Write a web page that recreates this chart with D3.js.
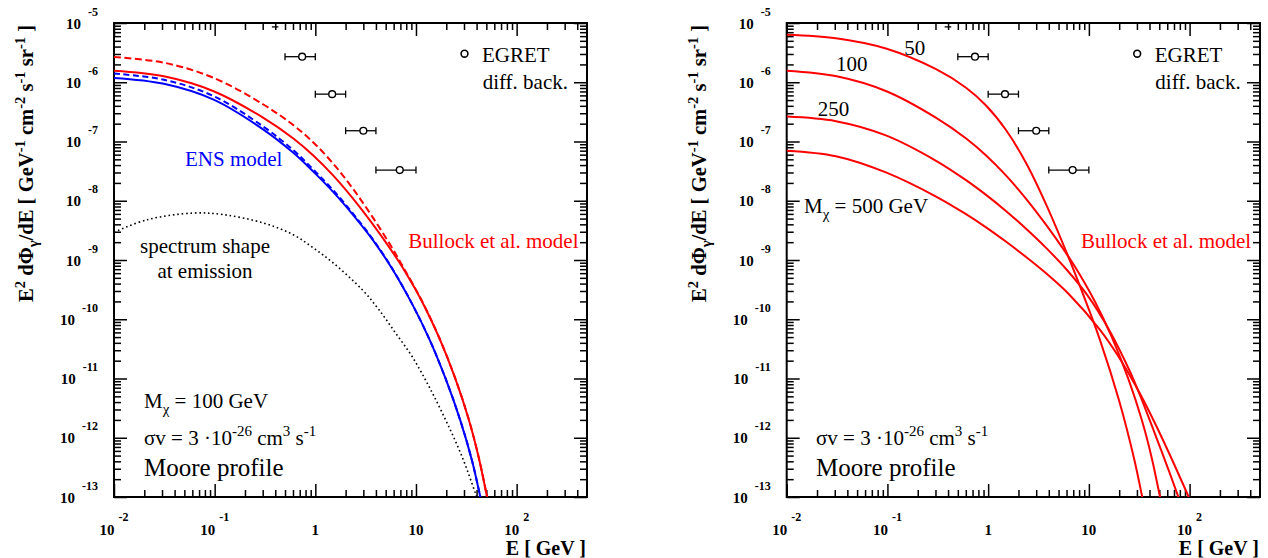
<!DOCTYPE html>
<html><head><meta charset="utf-8">
<script src="https://cdn.jsdelivr.net/npm/d3@7"></script>
<style>
body{margin:0;background:#fff;}
svg text{font-family:"Liberation Serif","Times New Roman",Times,serif;}
</style></head>
<body><svg id="chart" width="1268" height="558" font-family="Liberation Serif, Times New Roman, serif"></svg>
<script>
// ---------------- data ----------------
const xDomain = [0.01, 500];
const yDomain = [1e-13, 1e-5];
const xMajor = [0.01, 0.1, 1, 10, 100];
const xMajorLabels = [["10","-2"],["10","-1"],["1",""],["10",""],["10","2"]];
const yMajor = [1e-13,1e-12,1e-11,1e-10,1e-9,1e-8,1e-7,1e-6,1e-5];
const yMajorExp = ["-13","-12","-11","-10","-9","-8","-7","-6","-5"];

// EGRET diffuse background points (GeV, flux) with energy bins
const egretE   = [0.74, 1.47, 3.0, 6.9];
const egretF   = [2.7e-6, 6.3e-7, 1.52e-7, 3.3e-8];
const egretLo  = [0.5, 1, 2, 4];
const egretHi  = [1, 2, 4, 10];
const egretClippedE = [0.37, 0.43];
const egretClippedF = 8.6e-6;

// left panel: ENS model (blue) solid / dashed
const ensE       = [0.01,0.0313,0.0977,0.305,0.605,0.955,1.51,2.38,3.75,5.92,9.18,13.5,19.7,27.7,36.1,43.7,45.7];
const ensSolidF  = [1.18e-6,9.40e-7,5.08e-7,1.59e-7,6.44e-8,3.10e-8,1.40e-8,5.74e-9,2.15e-9,6.73e-10,1.80e-10,4.72e-11,9.93e-12,1.91e-12,4.07e-13,9.77e-14,6.76e-14];
const ensDashedF = [1.40e-6,1.104e-6,5.83e-7,1.78e-7,7.14e-8,3.37e-8,1.50e-8,6.01e-9,2.21e-9,6.82e-10,1.80e-10,4.72e-11,9.93e-12,1.91e-12,4.07e-13,9.77e-14,6.76e-14];

// Bullock et al. model, M = 100 GeV (red) solid / dashed
const bullE       = [0.01,0.0313,0.0977,0.305,0.605,0.955,1.51,2.38,3.75,5.92,7.31,11.5,16.9,24.7,33.5,42.1,50.8,52.5];
const bullSolidF  = [1.567e-6,1.262e-6,7.06e-7,2.51e-7,1.125e-7,5.81e-8,2.65e-8,1.074e-8,3.94e-9,1.318e-9,7.60e-10,1.98e-10,5.0e-11,9.77e-12,2.01e-12,4.57e-13,1.01e-13,7.76e-14];
const bullDashedF = [2.66e-6,2.14e-6,1.186e-6,4.21e-7,1.888e-7,9.64e-8,4.2e-8,1.57e-8,5.13e-9,1.51e-9,8.05e-10,2.02e-10,5.02e-11,9.8e-12,2.02e-12,4.59e-13,1.02e-13,7.8e-14];

// spectrum shape at emission (black dotted)
const emisE = [0.01,0.0214,0.0619,0.123,0.305,0.605,0.955,1.51,2.94,4.31,6.30,9.18,13.5,19.7,28.7,39.0,42];
const emisF = [2.94e-9,4.79e-9,6.21e-9,5.82e-9,4.21e-9,2.67e-9,1.6e-9,8.89e-10,3.12e-10,1.43e-10,5.79e-11,2.33e-11,7.26e-12,2.0e-12,4.79e-13,1.15e-13,8.1e-14];

// right panel: Bullock model for several masses (M = 100 uses bullSolidF)
const m50E  = [0.01,0.0308,0.0966,0.304,0.603,0.953,1.51,2.38,3.75,6.03,8.91,12.9,19.95,28.2,33.9,35.5];
const m50F  = [6.34e-6,5.53e-6,3.71e-6,1.66e-6,8.09e-7,4.06e-7,1.55e-7,4.34e-8,8.79e-9,1.318e-9,2.45e-10,4.45e-11,4.24e-12,4.34e-13,9.93e-14,6.9e-14];
const m250E = [0.01,0.0308,0.0966,0.304,0.603,0.953,1.51,2.38,3.76,6.03,9.77,15.8,25.1,32.3,44.7,63.1,80.5];
const m250F = [2.63e-7,2.20e-7,1.268e-7,4.73e-8,2.23e-8,1.256e-8,6.67e-9,3.37e-9,1.603e-9,6.85e-10,2.48e-10,6.73e-11,1.406e-11,5.15e-12,1.236e-12,2.61e-13,8.3e-14];
const m500E = [0.01,0.0308,0.0966,0.304,0.603,0.953,1.51,2.38,3.76,6.31,12.9,19.6,32.3,44.7,63.1,97.3,102.3];
const m500F = [7.0e-8,5.65e-8,3.01e-8,1.178e-8,5.94e-9,3.56e-9,2.03e-9,1.125e-9,5.97e-10,2.67e-10,6.62e-11,2.37e-11,5.47e-12,1.845e-12,5.32e-13,1.03e-13,8.5e-14];
const massLabels = ["50","100","250"];

// ---------------- layout ----------------
const FONT = "'Liberation Serif','Times New Roman',Times,serif";
const svg = d3.select("#chart");
const yTop = 23, yBot = 497;
const panels = [{x0:114, x1:587}, {x0:786.7, x1:1260}];
const xMinor = [], yMinor = [];
for (let k=-2;k<=2;k++) for (let m=2;m<=9;m++){ const v=m*Math.pow(10,k); if (v<500) xMinor.push(v); }
for (let k=-13;k<=-6;k++) for (let m=2;m<=9;m++) yMinor.push(m*Math.pow(10,k));

function rich(g, x, y, parts, o){
  const t = g.append("text").attr("x",x).attr("y",y)
    .attr("font-size",o.size).attr("fill",o.fill||"#000")
    .attr("font-weight",o.weight||"normal").attr("text-anchor",o.anchor||"start");
  let cur = 0;
  parts.forEach(([s,k,dx])=>{
    const target = k==="sup" ? -o.supShift : (k==="sub" ? o.subShift : 0);
    const ts = t.append("tspan").attr("dy", target-cur).text(s);
    if (k!=="n") ts.attr("font-size", o.subSize);
    if (dx) ts.attr("dx", dx);
    cur = target;
  });
  return t;
}

function drawPanel(p, idx){
  const g = svg.append("g");
  const x = d3.scaleLog().domain(xDomain).range([p.x0,p.x1]);
  const y = d3.scaleLog().domain(yDomain).range([yBot,yTop]);
  const clipId = "clip"+idx;
  g.append("clipPath").attr("id",clipId).append("rect")
    .attr("x",p.x0).attr("y",yTop).attr("width",p.x1-p.x0).attr("height",yBot-yTop);

  // ticks
  const axes = [
    [d3.axisBottom, `translate(0,${yBot})`, x, xMajor, xMinor],
    [d3.axisTop, `translate(0,${yTop})`, x, xMajor, xMinor],
    [d3.axisLeft, `translate(${p.x0},0)`, y, yMajor, yMinor],
    [d3.axisRight, `translate(${p.x1},0)`, y, yMajor, yMinor]];
  axes.forEach(([ax,tr,sc,maj,mn])=>{
    [[maj,-13],[mn,-7]].forEach(([vals,len])=>{
      const a = g.append("g").attr("transform",tr)
        .call(ax(sc).tickValues(vals).tickSize(len).tickFormat(""));
      a.select(".domain").remove();
      a.selectAll("line").attr("stroke","#000").attr("stroke-width",1.5);
    });
  });
  g.append("rect").attr("x",p.x0).attr("y",yTop).attr("width",p.x1-p.x0).attr("height",yBot-yTop)
    .attr("fill","none").attr("stroke","#000").attr("stroke-width",2);

  // tick labels
  xMajor.forEach((v,i)=>{
    const lab = xMajorLabels[i];
    const t = g.append("text").attr("x",x(v)).attr("y",535).attr("text-anchor","middle")
      .attr("font-weight","bold").attr("font-size",15);
    t.append("tspan").text(lab[0]);
    if (lab[1]) t.append("tspan").attr("dx",4).attr("dy",-14).attr("font-size",12).text(lab[1]);
  });
  yMajor.forEach((v,i)=>{
    const t = g.append("text").attr("x",p.x0-16).attr("y",y(v)+5.5).attr("text-anchor","end")
      .attr("font-weight","bold").attr("font-size",15);
    t.append("tspan").text("10");
    t.append("tspan").attr("dx",7).attr("dy",-13).attr("font-size",12).text(yMajorExp[i]);
  });

  // axis titles
  g.append("text").attr("x",p.x1-1).attr("y",555).attr("text-anchor","end")
    .attr("font-weight","bold").attr("font-size",20).text("E [ GeV ]");
  rich(g,0,0,[["E","n"],["2","sup"],[" dΦ","n"],["γ","sub"],["/dE [ GeV","n"],["-1","sup"],[" cm","n"],["-2","sup"],[" s","n"],["-1","sup"],[" sr","n"],["-1","sup"],[" ]","n"]],
    {size:20.6, weight:"bold", anchor:"end", subSize:14.5, supShift:8, subShift:5})
    .attr("transform",`translate(${p.x0-81},25) rotate(-90)`);

  const line = d3.line().x(d=>x(d[0])).y(d=>y(d[1])).curve(d3.curveCatmullRom.alpha(0.5));
  const plot = g.append("g").attr("clip-path",`url(#${clipId})`);
  const curve = (E,F,color,dash,w)=>{
    plot.append("path").datum(E.map((e,i)=>[e,F[i]])).attr("d",line)
      .attr("fill","none").attr("stroke",color).attr("stroke-width",w||2)
      .attr("stroke-dasharray",dash||null);
  };

  if (idx===0){
    curve(emisE, emisF, "#000", "1.6,2.8", 1.6);
    curve(ensE, ensSolidF, "#0000ff");
    curve(ensE, ensDashedF, "#0000ff", "6,3.5");
    curve(bullE, bullSolidF, "#ff0000");
    curve(bullE, bullDashedF, "#ff0000", "7,3.5");
  } else {
    curve(m50E, m50F, "#ff0000");
    curve(bullE, bullSolidF, "#ff0000");
    curve(m250E, m250F, "#ff0000");
    curve(m500E, m500F, "#ff0000");
  }

  // EGRET points
  const eg = g.append("g");
  egretE.forEach((e,i)=>{
    const yy = y(egretF[i]);
    eg.append("line").attr("x1",x(egretLo[i])).attr("x2",x(egretHi[i])).attr("y1",yy).attr("y2",yy)
      .attr("stroke","#000").attr("stroke-width",1.3);
    [egretLo[i],egretHi[i]].forEach(v=>eg.append("line").attr("x1",x(v)).attr("x2",x(v))
      .attr("y1",yy-3.5).attr("y2",yy+3.5).attr("stroke","#000").attr("stroke-width",1.3));
    eg.append("circle").attr("cx",x(e)).attr("cy",yy).attr("r",3.4)
      .attr("fill","#fff").attr("stroke","#000").attr("stroke-width",1.4);
  });
  eg.append("line").attr("x1",x(egretClippedE[0])).attr("x2",x(egretClippedE[1]))
    .attr("y1",y(egretClippedF)).attr("y2",y(egretClippedF)).attr("stroke","#000").attr("stroke-width",1.3);

  // legend
  g.append("circle").attr("cx",p.x0+350.5).attr("cy",53.7).attr("r",3.4)
    .attr("fill","#fff").attr("stroke","#000").attr("stroke-width",1.6);
  g.append("text").attr("x",p.x0+368).attr("y",61.5).attr("font-size",21).text("EGRET");
  g.append("text").attr("x",p.x0+454).attr("y",89).attr("font-size",21).attr("text-anchor","end").text("diff. back.");

  g.append("text").attr("x",p.x0+464.5).attr("y",248).attr("font-size",21).attr("text-anchor","end")
    .attr("fill","#ff0000").text("Bullock et al. model");

  const ax0 = p.x0+30 - (idx===1?0.7:0);
  rich(g, ax0, 445, [["σv = 3 ·10","n"],["-26","sup"],[" cm","n"],["3","sup"],[" s","n"],["-1","sup"]],
    {size:21, subSize:15, supShift:9, subShift:6});
  g.append("text").attr("x",ax0).attr("y",476).attr("font-size",25).text("Moore profile");

  if (idx===0){
    g.append("text").attr("x",185).attr("y",166).attr("font-size",21).attr("fill","#0000ff").text("ENS model");
    g.append("text").attr("x",205).attr("y",253).attr("font-size",21).attr("text-anchor","middle").text("spectrum shape");
    g.append("text").attr("x",205).attr("y",278).attr("font-size",21).attr("text-anchor","middle").text("at emission");
    rich(g, ax0, 408, [["M","n"],["χ","sub"],[" = 100 GeV","n"]], {size:21, subSize:15, supShift:9, subShift:6});
  } else {
    rich(g, p.x0+17.3, 213, [["M","n"],["χ","sub"],[" = 500 GeV","n"]], {size:21, subSize:15, supShift:9, subShift:6});
    const pos = [[117.6,54.7],[49.3,71.3],[31,116.3]];
    massLabels.forEach((s,i)=>g.append("text").attr("x",p.x0+pos[i][0]).attr("y",pos[i][1]).attr("font-size",21).text(s));
  }
}
panels.forEach(drawPanel);
svg.selectAll("text").style("font-family", FONT);
</script>
</body></html>
